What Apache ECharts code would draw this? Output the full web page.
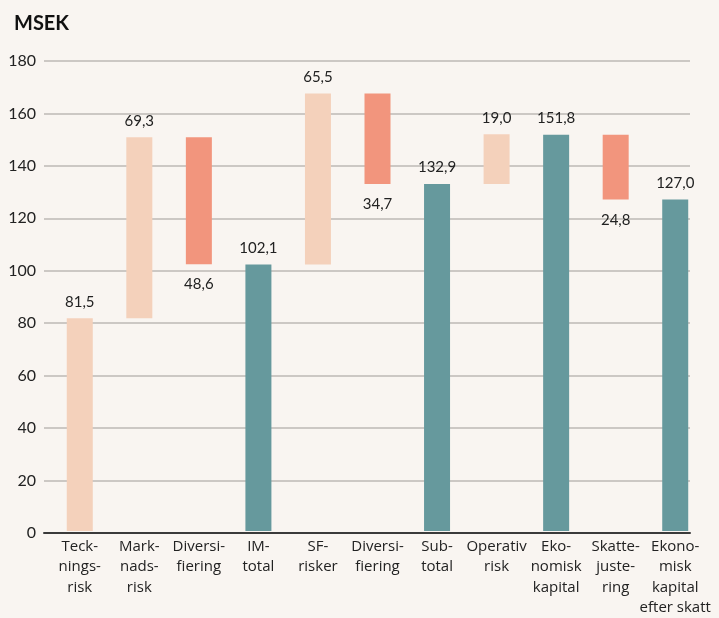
<!DOCTYPE html>
<html>
<head>
<meta charset="utf-8">
<title>MSEK</title>
<script src="https://cdn.jsdelivr.net/npm/echarts@6/dist/echarts.min.js"></script>
<style>
  html, body { margin: 0; padding: 0; background: #f9f5f1; }
  #chart { width: 719px; height: 618px; }
</style>
</head>
<body>
<div id="chart"></div>
<script>
// kategorier (radbrytningar som i originalet)
var categories = [
  "Teck-\nnings-\nrisk",
  "Mark-\nnads-\nrisk",
  "Diversi-\nfiering",
  "IM-\ntotal",
  "SF-\nrisker",
  "Diversi-\nfiering",
  "Sub-\ntotal",
  "Operativ\nrisk",
  "Eko-\nnomisk\nkapital",
  "Skatte-\njuste-\nring",
  "Ekono-\nmisk\nkapital\nefter skatt"
];
// förändring per steg, negativa = minskning
var values = [81.5, 69.3, -48.6, 102.1, 65.5, -34.7, 132.9, 19.0, 151.8, -24.8, 127.0];
// typ av stapel
var kinds = ["up", "up", "down", "total", "up", "down", "total", "up", "total", "down", "total"];
var yTicks = [0, 20, 40, 60, 80, 100, 120, 140, 160, 180];

var colors = { up: "#f4d1bb", down: "#f2957d", total: "#66999d" };

// bygg osynlig bas + synlig stapel
var running = 0;
var baseData = [];
var barData = [];
for (var i = 0; i < values.length; i++) {
  var v = values[i];
  var k = kinds[i];
  var base, h;
  if (k === "total") {
    base = 0; h = v; running = v;
  } else if (k === "up") {
    base = running; h = v; running += v;
  } else {
    running += v; base = running; h = -v;
  }
  baseData.push(base);
  barData.push({
    value: h,
    itemStyle: { color: colors[k] },
    label: {
      position: k === "down" ? "bottom" : "top",
      distance: k === "down" ? 13 : 9
    }
  });
}

var getchart = echarts.init(document.getElementById("chart"));
var font = "Lato, 'Open Sans', sans-serif";
var option = {
  backgroundColor: "#f9f5f1",
  animation: false,
  title: {
    text: "MSEK",
    left: 9,
    top: 9,
    textStyle: { fontFamily: font, fontSize: 20, fontWeight: "bold", color: "#111" }
  },
  grid: [
    { left: 44, right: 29, top: 61, bottom: 85 },
    { left: 50, right: 14, top: 61, bottom: 85 }
  ],
  xAxis: [
    {
      gridIndex: 0,
      type: "category",
      data: [""],
      axisLine: { lineStyle: { color: "#3a3a3a", width: 2 } },
      axisTick: { show: false },
      axisLabel: { show: false }
    },
    {
      gridIndex: 1,
      type: "category",
      data: categories,
      axisLine: { show: false },
      axisTick: { show: false },
      axisLabel: {
        interval: 0,
        margin: 5,
        fontFamily: "'Open Sans', sans-serif",
        fontSize: 15,
        lineHeight: 20.5,
        color: "#222"
      }
    }
  ],
  yAxis: [
    {
      gridIndex: 0,
      type: "value",
      min: yTicks[0],
      max: yTicks[yTicks.length - 1],
      interval: 20,
      axisLine: { show: false },
      axisTick: { show: false },
      axisLabel: { margin: 8, fontFamily: font, fontSize: 16, color: "#222" },
      splitLine: { lineStyle: { color: "#bdb9b5", width: 1.5 } }
    },
    {
      gridIndex: 1,
      type: "value",
      min: yTicks[0],
      max: yTicks[yTicks.length - 1],
      interval: 20,
      show: false
    }
  ],
  series: [
    {
      type: "bar",
      xAxisIndex: 1,
      yAxisIndex: 1,
      stack: "w",
      barWidth: 26,
      itemStyle: { color: "transparent" },
      emphasis: { disabled: true },
      data: baseData
    },
    {
      type: "bar",
      xAxisIndex: 1,
      yAxisIndex: 1,
      stack: "w",
      barWidth: 26,
      label: {
        show: true,
        fontFamily: font,
        fontSize: 15,
        color: "#222",
        formatter: function (p) {
          return Math.abs(values[p.dataIndex]).toFixed(1).replace(".", ",");
        }
      },
      data: barData
    }
  ]
};

getchart.setOption(option);
window.addEventListener("resize", function () {
  getchart.resize();
});
</script>
</body>
</html>
